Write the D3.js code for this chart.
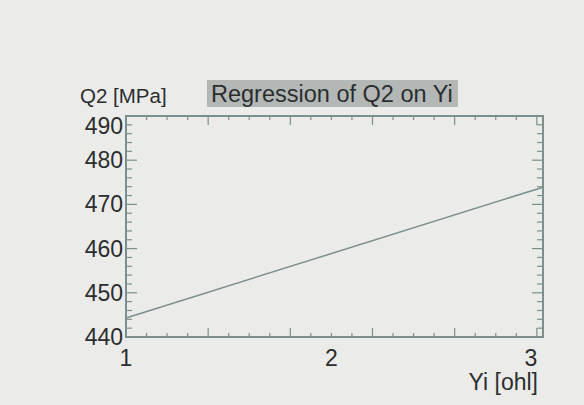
<!DOCTYPE html>
<meta charset="utf-8">
<style>
body { margin: 0; background: #ebebea; }
text { font-family: "Liberation Sans", Arial, sans-serif; fill: #2b2e2e; }
</style>
<body>
<svg width="584" height="405"></svg>
<script src="https://d3js.org/d3.v7.min.js"></script>
<script>
// regression line end points (Yi, Q2)
var lineX = [1, 3.03];
var lineY = [444.3, 473.9];
var yTicks = [440, 450, 460, 470, 480, 490];
var xTicks = [1, 2, 3];

var svg = d3.select("svg");
svg.append("rect").attr("width", 584).attr("height", 405).attr("fill", "#ebebea");

var x = d3.scaleLinear().domain([1, 3.03]).range([126, 543]);
var y = d3.scaleLinear().domain([440, 490]).range([337, 116]);

var frameColor = "#7b908d";

// title box
svg.append("rect").attr("x", 207).attr("y", 80).attr("width", 251).attr("height", 27)
  .attr("fill", "#b3b8b7");
svg.append("text").attr("x", 211).attr("y", 102).attr("font-size", 23.5).text("Regression of Q2 on Yi");
svg.append("text").attr("x", 80).attr("y", 103).attr("font-size", 20.5).text("Q2 [MPa]");
svg.append("text").attr("x", 538).attr("y", 390).attr("font-size", 23).attr("text-anchor", "end").text("Yi [ohl]");

var g = svg.append("g");

// minor ticks y
d3.range(440, 491, 2).forEach(function(v) {
  var len = v % 10 == 0 ? 11 : 6;
  g.append("line").attr("x1", x(1)).attr("x2", x(1) + len).attr("y1", y(v)).attr("y2", y(v))
    .attr("stroke", frameColor).attr("stroke-width", 1.2);
  g.append("line").attr("x1", x(3.03)).attr("x2", x(3.03) - len).attr("y1", y(v)).attr("y2", y(v))
    .attr("stroke", frameColor).attr("stroke-width", 1.2);
});
// minor ticks x
d3.range(1, 3.03, 0.1).forEach(function(v) {
  var k = Math.round(v * 10);
  var len = (k - 10) % 4 == 0 ? 9 : 4;
  g.append("line").attr("x1", x(v)).attr("x2", x(v)).attr("y1", y(440)).attr("y2", y(440) - len)
    .attr("stroke", frameColor).attr("stroke-width", 1.2);
  g.append("line").attr("x1", x(v)).attr("x2", x(v)).attr("y1", y(490)).attr("y2", y(490) + len)
    .attr("stroke", frameColor).attr("stroke-width", 1.2);
});

// frame
g.append("rect").attr("x", x(1)).attr("y", y(490)).attr("width", x(3.03) - x(1)).attr("height", y(440) - y(490))
  .attr("fill", "none").attr("stroke", frameColor).attr("stroke-width", 2);

// labels (top one sits a bit lower, as in the original)
svg.selectAll(".yl").data(yTicks).enter().append("text")
  .attr("x", 123).attr("y", function(d) { return y(d) + (d == 490 ? 18 : 8); })
  .attr("text-anchor", "end").attr("font-size", 23).text(function(d) { return d; });
svg.selectAll(".xl").data(xTicks).enter().append("text")
  .attr("x", function(d) { return x(d) + (d == 3 ? -6 : 0); }).attr("y", 366)
  .attr("text-anchor", "middle").attr("font-size", 23).text(function(d) { return d; });

// regression line
var line = d3.line().x(function(d) { return x(d[0]); }).y(function(d) { return y(d[1]); });
g.append("path").datum(d3.zip(lineX, lineY)).attr("d", line)
  .attr("fill", "none").attr("stroke", "#7b908d").attr("stroke-width", 1.5);
</script>
</body>
